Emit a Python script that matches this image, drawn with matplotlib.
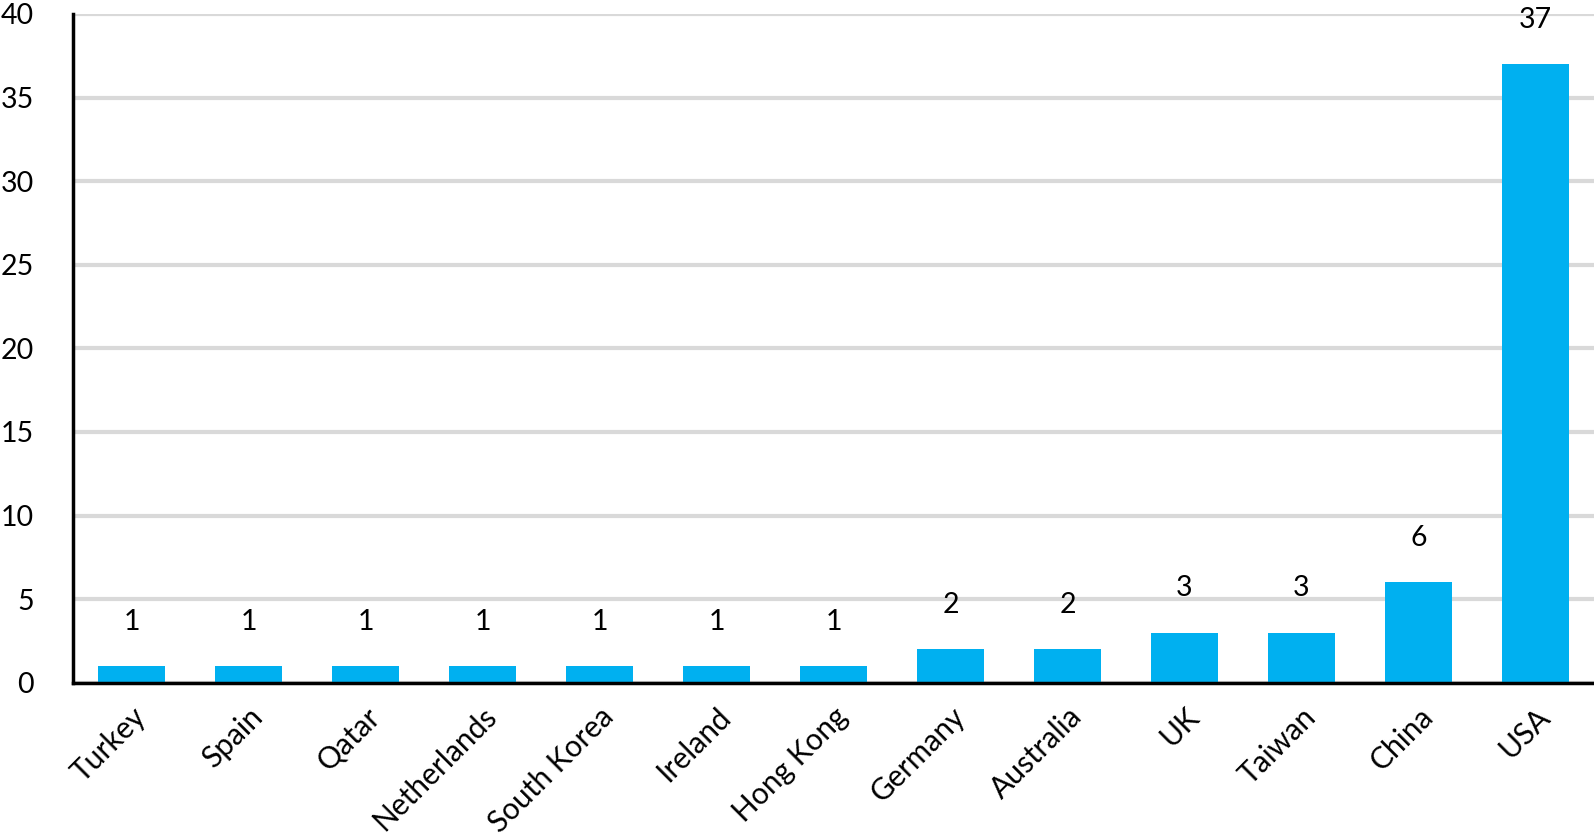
import matplotlib
matplotlib.use("Agg")
import matplotlib.pyplot as plt

countries = ["Turkey", "Spain", "Qatar", "Netherlands", "South Korea", "Ireland",
             "Hong Kong", "Germany", "Australia", "UK", "Taiwan", "China", "USA"]
counts = [1, 1, 1, 1, 1, 1, 1, 2, 2, 3, 3, 6, 37]
yticks = [0, 5, 10, 15, 20, 25, 30, 35, 40]

plt.rcParams['font.family'] = ['Lato', 'DejaVu Sans']

W, H = 1594, 836
fig = plt.figure(figsize=(W / 100, H / 100), dpi=100)
left = 73 / W
bottom = (H - 682.7) / H
top = (H - 14) / H
ax = fig.add_axes([left, bottom, 1 - left, top - bottom])

x = list(range(len(countries)))
ax.bar(x, counts, width=0.57, color="#00B0F0", zorder=3)
for xi, v in zip(x, counts):
    ax.annotate(str(v), (xi, v), xytext=(0, 32), textcoords="offset points",
                ha="center", va="center", fontsize=20.5, color="black")

ax.set_xlim(-0.5, len(countries) - 0.5)
ax.set_ylim(0, 40)
ax.set_yticks(yticks)
ax.set_yticklabels([str(t) for t in yticks], fontsize=20.5)
ax.set_xticks(x)
ax.set_xticklabels(countries, fontsize=21.5, rotation=45, ha="right",
                   rotation_mode="anchor")
ax.tick_params(axis="both", length=0)
ax.tick_params(axis="y", pad=28)
ax.tick_params(axis="x", pad=14)

ax.grid(axis="y", color="#D9D9D9", linewidth=3, zorder=0)
ax.set_axisbelow(True)
for s in ["top", "right"]:
    ax.spines[s].set_visible(False)
for s in ["left", "bottom"]:
    ax.spines[s].set_linewidth(2.5)
    ax.spines[s].set_color("black")
    ax.spines[s].set_zorder(4)

fig.savefig("out.png", dpi=100)
